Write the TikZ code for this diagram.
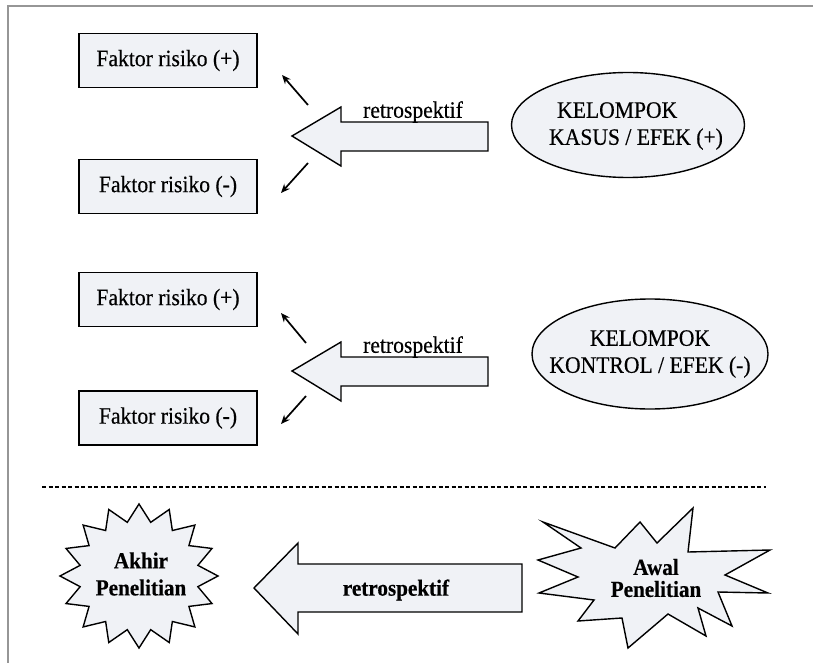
\documentclass[tikz,border=0pt]{standalone}
\usepackage{fontspec}
\setmainfont{Liberation Serif}[FakeStretch=0.92, FakeBold=0.4]
\usetikzlibrary{shapes.geometric,arrows.meta}
\definecolor{shapefill}{RGB}{240,242,246}
\definecolor{framegray}{RGB}{150,150,150}
\begin{document}
\begin{tikzpicture}[x=1pt,y=-1pt,
  every node/.style={font=\fontsize{23.5}{27}\selectfont},
  riskbox/.style={draw, line width=1.5pt, fill=shapefill, minimum width=178pt, minimum height=54pt, inner sep=0pt},
  grpellipse/.style={draw, ellipse, line width=1.4pt, fill=shapefill, inner sep=0pt},
  blockarr/.style={draw, line width=1.4pt, fill=shapefill, line join=miter},
  smallarr/.style={line width=1.7pt, -{Stealth[length=9pt,width=7.5pt]}},
  burst/.style={draw, line width=1.4pt, fill=shapefill, line join=miter},
  lbl/.style={inner sep=0pt}]
\path[use as bounding box] (0,0) rectangle (813,663);
\draw[framegray, line width=1.5pt] (813,6) -- (8,6) -- (8,663);

% section 1
\node[riskbox] (fp1) at (168,60.5) {Faktor risiko (+)};
\node[riskbox] (fm1) at (168,186.5) {Faktor risiko (-)};
\draw[blockarr] (292,136) -- (341,107) -- (341,122) -- (488,122) -- (488,151) -- (341,151) -- (341,166) -- cycle;
\node[lbl] (r1) at (413,112) {retrospektif};
\coordinate (u1s) at (308,105); \coordinate (u1e) at (282,75);
\coordinate (d1s) at (308,163); \coordinate (d1e) at (281,193);
\draw[smallarr] (u1s) -- (u1e);
\draw[smallarr] (d1s) -- (d1e);
\node[grpellipse, minimum width=233pt, minimum height=105pt] (g1) at (628,125) {};
\node[lbl, align=left] (g1t) at (636,126) {\hspace*{8pt}KELOMPOK\\KASUS / EFEK (+)};

% section 2
\node[riskbox] (fp2) at (168,299.5) {Faktor risiko (+)};
\node[riskbox] (fm2) at (168,418) {Faktor risiko (-)};
\draw[blockarr] (292,371) -- (341,342) -- (341,357) -- (488,357) -- (488,386) -- (341,386) -- (341,401) -- cycle;
\node[lbl] (r2) at (413,347) {retrospektif};
\coordinate (u2s) at (306,343); \coordinate (u2e) at (281,313);
\coordinate (d2s) at (306,396); \coordinate (d2e) at (281,424);
\draw[smallarr] (u2s) -- (u2e);
\draw[smallarr] (d2s) -- (d2e);
\node[grpellipse, minimum width=236pt, minimum height=110pt] (g2) at (650,354) {};
\node[lbl, align=center] (g2t) at (650,354) {KELOMPOK\\KONTROL / EFEK (-)};

% divider
\coordinate (dl) at (42,487); \coordinate (dr) at (766,487);
\draw[dash pattern=on 4pt off 2.5pt, line width=1.1pt] (dl) -- (dr);

% section 3
\draw[burst] plot[variable=\k, samples at={0,...,31}]
  ({139+79*(1-0.24*mod(\k,2))*cos(90+11.25*\k)}, {576+72*(1-0.24*mod(\k,2))*sin(90+11.25*\k)}) -- cycle;
\node[lbl, align=center, font=\fontsize{23}{27}\selectfont\bfseries] (akT) at (141,574) {Akhir\\Penelitian};
\draw[blockarr] (254,588) -- (298,543) -- (298,564) -- (522,564) -- (522,612) -- (298,612) -- (298,634) -- cycle;
\node[lbl, font=\fontsize{23}{27}\selectfont\bfseries] (r3) at (396,590) {retrospektif};
\draw[burst] (543,522) -- (615,548) -- (640,522) -- (657,543) -- (693,508) -- (688,552) -- (770,550) -- (725,575) -- (768,593) -- (718,592) -- (732,626) -- (698,608) -- (706,636) -- (668,614) -- (628,648) -- (622,618) -- (578,621) -- (594,600) -- (539,593) -- (578,577) -- (538,560) -- (581,548) -- cycle;
\node[lbl, align=center, font=\fontsize{23}{22}\selectfont\bfseries] (awT) at (656,578) {Awal\\Penelitian};
\end{tikzpicture}
\end{document}
